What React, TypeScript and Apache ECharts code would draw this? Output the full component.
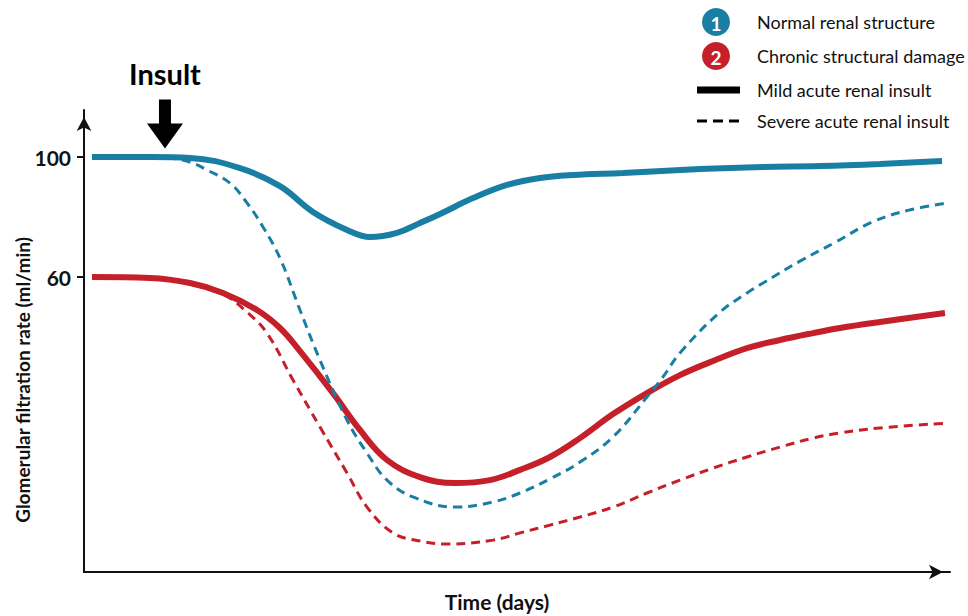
import React, { useEffect, useRef } from "react";
import * as echarts from "echarts";

// Time (arbitrary day units, 0–100) and GFR (ml/min)
const normalMildDays = [0.92, 7.62, 12.24, 18.01, 22.63, 26.44, 30.37, 33.03, 36.14, 38.8, 41.11, 44.92, 48.85, 52.66, 56.47, 62.24, 71.13, 78.41, 84.99, 91.92, 99.08];
const normalMildGfr = [100, 100, 99.7, 96.3, 90.3, 81.7, 75.7, 73.3, 74.7, 78, 81, 86.3, 90.7, 93, 94, 94.7, 96, 96.7, 97, 97.7, 98.7];

const normalSevereDays = [0.92, 7.62, 9.93, 12.24, 14.2, 16.86, 18.82, 20.67, 22.63, 24.94, 27.25, 30.37, 32.68, 34.99, 37.99, 42.84, 47.23, 50.35, 53.81, 57.27, 61.09, 65.01, 66.86, 68.82, 73.44, 76.56, 78.41, 82.68, 86.84, 90.99, 95.27, 99.77];
const normalSevereGfr = [100, 100, 99.7, 98.3, 95.7, 91.3, 84.7, 76.7, 66.3, 49, 32.3, 12.3, 1.3, -7.7, -13.3, -16.7, -15, -12, -7.3, -1.7, 6.7, 20, 26.7, 34.7, 48.3, 54.7, 58, 65.3, 71.7, 78.3, 82.3, 84.7];

const chronicMildDays = [0.92, 7.62, 12.24, 16.05, 19.98, 22.63, 24.94, 28.75, 31.87, 34.99, 38.8, 42.84, 46.88, 50.35, 53.81, 57.27, 61.09, 65.01, 68.82, 72.63, 76.56, 80.37, 84.18, 87.3, 91.92, 99.42];
const chronicMildGfr = [60, 59.7, 58, 54.7, 49, 43, 35.3, 21.3, 9, -1, -6.7, -8.7, -7.7, -4.3, 0, 6.3, 14.3, 21.3, 27.3, 32, 36.3, 39, 41.3, 43, 45, 48];

const chronicSevereDays = [0.92, 7.62, 12.24, 16.05, 18.82, 21.13, 24.13, 27.25, 30.37, 32.68, 35.68, 38.8, 41.92, 47.23, 50.35, 53.81, 57.27, 61.09, 65.01, 68.82, 72.63, 76.56, 80.37, 84.18, 87.3, 91.92, 99.77];
const chronicSevereGfr = [60, 59.7, 58, 54.3, 48.3, 41.3, 25.7, 10, -5.3, -16.7, -25.3, -28, -29, -27.7, -25.3, -22.7, -20, -16.7, -12, -7.7, -3.7, 0, 3.3, 6.3, 8, 9.7, 11.3];

const yTickValues = [60, 100];
const insultDay = 9.35;
const insultGfr = 100;

const legendLabels = [
  "Normal renal structure",
  "Chronic structural damage",
  "Mild acute renal insult",
  "Severe acute renal insult",
];

const BLUE = "#197ea3";
const RED = "#c52029";
const INK = "#111111";
const FONT = "Lato, 'Noto Sans', sans-serif";

const zip = (xs: number[], ys: number[]) => xs.map((x, i) => [x, ys[i]]);

export default function App() {
  const ref = useRef<HTMLDivElement>(null);

  useEffect(() => {
    document.body.style.margin = "0";
    if (!ref.current) return;
    const chart = echarts.init(ref.current, undefined, { renderer: "svg" });

    const solid = (name: string, color: string, data: number[][], extra: any = {}) => ({
      name,
      type: "line",
      data,
      smooth: 0.4,
      showSymbol: false,
      symbol: "none",
      lineStyle: { color, width: 6, cap: "butt" },
      z: 2,
      ...extra,
    });
    const dashed = (name: string, color: string, data: number[][]) => ({
      name,
      type: "line",
      data,
      smooth: 0.4,
      showSymbol: false,
      symbol: "none",
      lineStyle: { color, width: 3, type: [9, 6] },
      z: 3,
    });

    const legendX = 697;
    const textX = 757;
    const rows = [22, 56, 90, 121];

    chart.setOption({
      animation: false,
      grid: {
        left: 84,
        right: 18,
        top: 110,
        bottom: 44,
        containLabel: false,
        outerBoundsMode: "none",
      },
      xAxis: {
        type: "value",
        min: 0,
        max: 100,
        axisLine: {
          onZero: false,
          lineStyle: { color: INK, width: 2 },
          symbol: ["none", "arrow"],
          symbolSize: [11, 14],
          symbolOffset: [0, -7],
        },
        axisTick: { show: false },
        axisLabel: { show: false },
        splitLine: { show: false },
      },
      yAxis: {
        type: "value",
        min: -38.33,
        max: 115.67,
        axisLine: {
          show: true,
          onZero: false,
          lineStyle: { color: INK, width: 2 },
          symbol: ["none", "arrow"],
          symbolSize: [11, 14],
          symbolOffset: [0, -7],
        },
        axisTick: {
          show: true,
          customValues: yTickValues,
          length: 7,
          lineStyle: { color: INK, width: 2 },
        },
        axisLabel: {
          show: true,
          customValues: yTickValues,
          color: INK,
          fontSize: 21,
          fontFamily: "Lato",
          fontWeight: "bold",
          margin: 13,
        },
        splitLine: { show: false },
      },
      series: [
        solid("Normal – mild", BLUE, zip(normalMildDays, normalMildGfr), {
          markPoint: {
            silent: true,
            data: [{ coord: [insultDay, insultGfr] }],
            symbol: "path://M12,0 L24,0 L24,24 L36,24 L18,49 L0,24 L12,24 Z",
            symbolSize: [36, 49],
            symbolOffset: [0, -33],
            itemStyle: { color: "#000" },
            label: {
              show: true,
              position: "top",
              distance: 12,
              formatter: "Insult",
              color: "#000",
              fontSize: 29,
              fontWeight: "bold",
              fontFamily: "Lato",
            },
          },
        }),
        solid("Chronic – mild", RED, zip(chronicMildDays, chronicMildGfr)),
        dashed("Normal – severe", BLUE, zip(normalSevereDays, normalSevereGfr)),
        dashed("Chronic – severe", RED, zip(chronicSevereDays, chronicSevereGfr)),
      ],
      graphic: [
        {
          type: "text",
          x: 22,
          y: 380,
          rotation: Math.PI / 2,
          style: {
            text: "Glomerular filtration rate (ml/min)",
            fill: INK,
            font: `bold 19px ${FONT}`,
            align: "center",
            verticalAlign: "middle",
          },
        },
        {
          type: "text",
          x: 497,
          y: 601,
          style: {
            text: "Time (days)",
            fill: INK,
            font: `bold 21px ${FONT}`,
            align: "center",
            verticalAlign: "middle",
          },
        },
        { type: "circle", shape: { cx: 716, cy: rows[0], r: 14 }, style: { fill: BLUE } },
        {
          type: "text",
          x: 716,
          y: rows[0] + 1,
          style: { text: "1", fill: "#fff", font: `bold 19px ${FONT}`, align: "center", verticalAlign: "middle" },
        },
        { type: "circle", shape: { cx: 716, cy: rows[1], r: 14 }, style: { fill: RED } },
        {
          type: "text",
          x: 716,
          y: rows[1] + 1,
          style: { text: "2", fill: "#fff", font: `bold 19px ${FONT}`, align: "center", verticalAlign: "middle" },
        },
        {
          type: "line",
          shape: { x1: legendX, y1: rows[2], x2: legendX + 43, y2: rows[2] },
          style: { stroke: "#000", lineWidth: 7 },
        },
        {
          type: "line",
          shape: { x1: legendX, y1: rows[3], x2: legendX + 43, y2: rows[3] },
          style: { stroke: "#000", lineWidth: 3, lineDash: [10, 6] },
        },
        ...legendLabels.map((t, i) => ({
          type: "text",
          x: textX,
          y: rows[i],
          style: { text: t, fill: INK, font: `18px ${FONT}`, align: "left", verticalAlign: "middle" },
        })),
      ],
    });

    return () => chart.dispose();
  }, []);

  return <div ref={ref} style={{ width: 968, height: 616 }} />;
}
